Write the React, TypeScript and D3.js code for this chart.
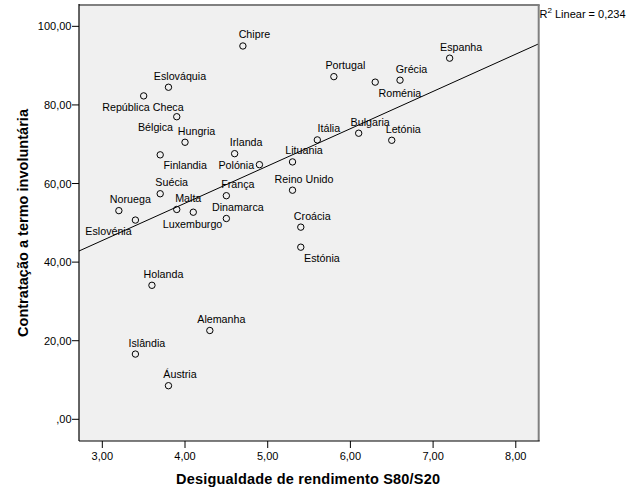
import React from "react";
import * as d3 from "d3";

const countries = ["Chipre","Eslováquia","República Checa","Bélgica","Hungria","Finlandia","Irlanda","Polónia","Lituania","Itália","Bulgaria","Letónia","Portugal","Roménia","Grécia","Espanha","Reino Unido","Croácia","Estónia","Suécia","França","Noruega","Malta","Dinamarca","Luxemburgo","Eslovénia","Holanda","Alemanha","Islândia","Áustria"];
const inequality = [4.7,3.8,3.5,3.9,4.0,3.7,4.6,4.9,5.3,5.6,6.1,6.5,5.8,6.3,6.6,7.2,5.3,5.4,5.4,3.7,4.5,3.2,3.9,4.5,4.1,3.4,3.6,4.3,3.4,3.8];
const involuntary = [95.0,84.5,82.3,77.0,70.5,67.3,67.6,64.8,65.5,71.1,72.8,71.0,87.2,85.8,86.3,91.9,58.3,48.9,43.8,57.4,56.9,53.1,53.4,51.1,52.7,50.7,34.1,22.6,16.6,8.55];
// label placement code: a=above, b=below, br=below-right, bl=below-left, l=left
const labelPlacement = ["a","a","b","bl","a","br","a","l","a","a","a","a","a","br","a","a","a","a","br","a","a","a","a","a","b","bl","a","a","a","a"];
const xTicks = [3,4,5,6,7,8];
const yTicks = [0,20,40,60,80,100];
const xTitle = "Desigualdade de rendimento S80/S20";
const yTitle = "Contratação a termo involuntária";
const r2Text = "0,234";

const W = 626, H = 501;
const L = 79, R = 538.7, T = 5, B = 441;
const FONT = "'Liberation Sans', Arial, sans-serif";

const fmt = (v: number) => {
  let s = d3.format(".2f")(v).replace(".", ",");
  if (s.startsWith("0,")) s = s.slice(1);
  return s;
};

const place: Record<string, { dx: number; dy: number; anchor: string }> = {
  a: { dx: 11.5, dy: -11.5, anchor: "middle" },
  b: { dx: -0.7, dy: 11.5, anchor: "middle" },
  br: { dx: 3.3, dy: 10.5, anchor: "start" },
  bl: { dx: -3.7, dy: 10.5, anchor: "end" },
  l: { dx: -5.3, dy: 0, anchor: "end" },
};

export default function App() {
  const x = d3.scaleLinear().domain([2.718, 8.277]).range([L, R]);
  const y = d3.scaleLinear().domain([-5.52, 105.43]).range([B, T]);

  const mx = d3.mean(inequality)!;
  const my = d3.mean(involuntary)!;
  let sxy = 0, sxx = 0;
  inequality.forEach((v, i) => {
    sxy += (v - mx) * (involuntary[i] - my);
    sxx += (v - mx) * (v - mx);
  });
  const slope = sxy / sxx;
  const icpt = my - slope * mx;
  const [x0, x1] = x.domain();
  const line = d3.line<number>().x((d) => x(d)).y((d) => y(icpt + slope * d));

  return (
    <div style={{ position: "absolute", left: 0, top: 0 }}>
      <svg width={W} height={H} style={{ display: "block", background: "#fff" }}>
        <defs>
          <clipPath id="plotclip">
            <rect x={L} y={T} width={R - L} height={B - T} />
          </clipPath>
        </defs>
        <rect x={L} y={T} width={R - L} height={B - T} fill="#F0F0F0" />
        <path d={line([x0, x1]) || ""} stroke="#000" strokeWidth={1} fill="none" clipPath="url(#plotclip)" />
        {countries.map((c, i) => {
          const px = x(inequality[i]);
          const py = y(involuntary[i]);
          const p = place[labelPlacement[i]];
          return (
            <g key={c}>
              <circle cx={px} cy={py} r={3.2} fill="none" stroke="#000" strokeWidth={1} />
              <text x={px + p.dx} y={py + p.dy} textAnchor={p.anchor} dominantBaseline="central"
                fontFamily={FONT} fontSize={10.7} fill="#000">{c}</text>
            </g>
          );
        })}
        {/* frame */}
        <line x1={L} x2={R + 1} y1={T} y2={T} stroke="#808080" strokeWidth={2} />
        <line x1={R} x2={R} y1={T} y2={B} stroke="#808080" strokeWidth={2} />
        <line x1={L} x2={L} y1={T - 1} y2={B} stroke="#000" strokeWidth={1.2} />
        <line x1={L} x2={R + 1} y1={B} y2={B} stroke="#000" strokeWidth={1.2} />
        {/* y axis */}
        {yTicks.map((t) => (
          <g key={"y" + t}>
            <line x1={L - 7} x2={L} y1={y(t)} y2={y(t)} stroke="#000" strokeWidth={1} />
            <text x={L - 7.5} y={y(t)} textAnchor="end" dominantBaseline="central" fontFamily={FONT} fontSize={11} fill="#000">{fmt(t)}</text>
          </g>
        ))}
        {xTicks.map((t) => (
          <g key={"x" + t}>
            <line x1={x(t)} x2={x(t)} y1={B} y2={B + 7} stroke="#000" strokeWidth={1} />
            <text x={x(t)} y={B + 14.5} textAnchor="middle" dominantBaseline="central" fontFamily={FONT} fontSize={11} fill="#000">{fmt(t)}</text>
          </g>
        ))}
        <text x={308} y={479} textAnchor="middle" dominantBaseline="central" fontFamily={FONT} fontWeight="bold" fontSize={14.5} textLength={264} lengthAdjust="spacing" fill="#000">{xTitle}</text>
        <text transform={`translate(22.5,223) rotate(-90)`} textAnchor="middle" dominantBaseline="central" fontFamily={FONT} fontWeight="bold" fontSize={14.5} textLength={228} lengthAdjust="spacing" fill="#000">{yTitle}</text>
        <text x={539.5} y={14} dominantBaseline="central" fontFamily={FONT} fontSize={11} fill="#000">
          R<tspan fontSize={8} dy={-4}>2</tspan><tspan dy={4}>{" Linear = " + r2Text}</tspan>
        </text>
      </svg>
    </div>
  );
}
